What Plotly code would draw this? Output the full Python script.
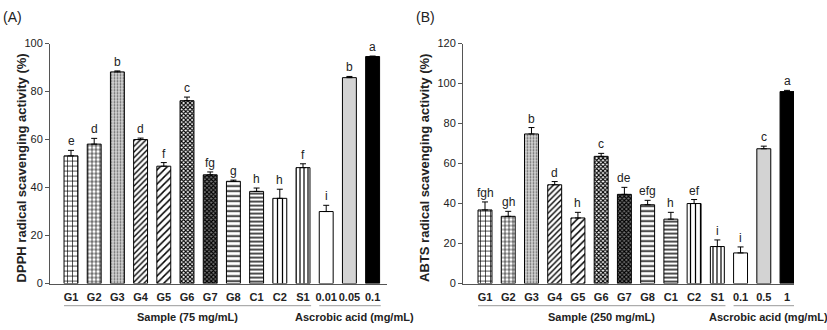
import plotly.graph_objects as go

W, H = 827, 330

# ---------------- data ----------------
cats_a = ["G1", "G2", "G3", "G4", "G5", "G6", "G7", "G8", "C1", "C2", "S1", "0.01", "0.05", "0.1"]
vals_a = [53.2, 58.1, 88.2, 60.0, 48.9, 76.2, 45.3, 42.6, 38.4, 35.5, 48.3, 30.0, 85.8, 94.6]
errs_a = [2.3, 2.4, 0.4, 0.6, 1.5, 1.5, 1.2, 0.5, 1.4, 3.8, 1.6, 2.6, 0.5, 0.2]
lets_a = ["e", "d", "b", "d", "f", "c", "fg", "g", "h", "h", "f", "i", "b", "a"]

cats_b = ["G1", "G2", "G3", "G4", "G5", "G6", "G7", "G8", "C1", "C2", "S1", "0.1", "0.5", "1"]
vals_b = [36.8, 33.6, 74.8, 49.4, 32.8, 63.6, 44.6, 39.4, 32.2, 40.0, 18.5, 15.3, 67.4, 96.0]
errs_b = [4.0, 2.5, 3.2, 1.6, 2.8, 1.5, 3.5, 2.2, 3.4, 2.0, 3.3, 3.0, 1.3, 0.6]
lets_b = ["fgh", "gh", "b", "d", "h", "c", "de", "efg", "h", "ef", "i", "i", "c", "a"]

group_a = ["Sample (75 mg/mL)", "Ascrobic acid (mg/mL)"]
group_b = ["Sample (250 mg/mL)", "Ascrobic acid (mg/mL)"]
group_split = 11  # first 11 are samples

ytitle_a = "DPPH radical scavenging activity (%)"
ytitle_b = "ABTS radical scavenging activity (%)"

# ---------------- styles per bar position ----------------
styles = [
    dict(shape="+", size=5, solidity=0.25, bg="white", fg="black"),
    dict(shape="+", size=4, solidity=0.3, bg="white", fg="black"),
    dict(shape=".", size=3, solidity=0.3, bg="#d4d4d4", fg="#666666"),
    dict(shape="/", size=4, solidity=0.35, bg="white", fg="black"),
    dict(shape="/", size=5, solidity=0.3, bg="white", fg="black"),
    dict(shape="x", size=3, solidity=0.6, bg="white", fg="black"),
    dict(shape="x", size=3, solidity=0.6, bg="#777777", fg="black"),
    dict(shape="-", size=5, solidity=0.3, bg="white", fg="black"),
    dict(shape="-", size=4, solidity=0.35, bg="white", fg="black"),
    dict(shape="|", size=5, solidity=0.25, bg="white", fg="black"),
    dict(shape="|", size=4, solidity=0.3, bg="white", fg="black"),
    dict(shape="", size=4, solidity=0.3, bg="white", fg="white"),
    dict(shape="", size=4, solidity=0.3, bg="#d3d3d3", fg="#d3d3d3"),
    dict(shape="", size=4, solidity=0.3, bg="black", fg="black"),
]

FONT = "Arial, Liberation Sans, sans-serif"

fig = go.Figure()

def px_x(p):
    return p / W

def px_y(p):
    return 1 - p / H

panels = [
    dict(cats=cats_a, vals=vals_a, errs=errs_a, lets=lets_a, groups=group_a,
         xa="x", ya="y", xdom=[px_x(50), px_x(387)], xr=[-0.905, 13.62],
         yr=[0, 100], dtick=20, ytitle=ytitle_a, title_x=12, label="(A)", label_x=1),
    dict(cats=cats_b, vals=vals_b, errs=errs_b, lets=lets_b, groups=group_b,
         xa="x2", ya="y2", xdom=[px_x(463), px_x(794)], xr=[-0.947, 13.3],
         yr=[0, 120], dtick=20, ytitle=ytitle_b, title_x=425, label="(B)", label_x=414),
]

ydom = [px_y(288), px_y(39)]

for pi, P in enumerate(panels):
    xs = list(range(len(P["cats"])))
    for i, x in enumerate(xs):
        s = styles[i]
        marker = dict(color=s["bg"], line=dict(color="black", width=1))
        if s["shape"]:
            marker["pattern"] = dict(shape=s["shape"], size=s["size"], solidity=s["solidity"],
                                     fgcolor=s["fg"], bgcolor=s["bg"], fillmode="replace")
        fig.add_trace(go.Bar(
            x=[x], y=[P["vals"][i]], width=0.6, marker=marker,
            error_y=dict(type="data", symmetric=False, array=[P["errs"][i]], arrayminus=[0],
                         color="black", thickness=1, width=3),
            xaxis=P["xa"], yaxis=P["ya"], showlegend=False,
        ))
        fig.add_annotation(x=x, y=P["vals"][i] + P["errs"][i], xref=P["xa"], yref=P["ya"],
                           text=P["lets"][i], showarrow=False, yanchor="bottom", yshift=0,
                           font=dict(family=FONT, size=12, color="#222"))
    n = len(xs)
    xref = P["xa"]
    fig.add_shape(type="line", xref=xref, yref="paper", x0=-0.3, x1=group_split - 1 + 0.35,
                  y0=px_y(311), y1=px_y(311), line=dict(color="#999", width=1))
    fig.add_shape(type="line", xref=xref, yref="paper", x0=group_split - 0.3, x1=n - 1 + 0.35,
                  y0=px_y(311), y1=px_y(311), line=dict(color="#999", width=1))
    fig.add_annotation(x=(group_split - 1) / 2, y=px_y(314), xref=xref, yref="paper",
                       yanchor="top", text="<b>%s</b>" % P["groups"][0], showarrow=False,
                       font=dict(family=FONT, size=11, color="#222"))
    fig.add_annotation(x=(group_split + n - 1) / 2 + 0.2, y=px_y(314), xref=xref, yref="paper",
                       yanchor="top", text="<b>%s</b>" % P["groups"][1], showarrow=False,
                       font=dict(family=FONT, size=11, color="#222"))
    fig.add_annotation(x=px_x(P["title_x"]), y=px_y(168), xref="paper", yref="paper",
                       text="<b>%s</b>" % P["ytitle"], textangle=-90, showarrow=False,
                       font=dict(family=FONT, size=13, color="#222"))
    fig.add_annotation(x=px_x(P["label_x"]), y=px_y(1), xref="paper", yref="paper",
                       text=P["label"], showarrow=False, xanchor="left", yanchor="top",
                       font=dict(family=FONT, size=14, color="#222"))

    xkey = "xaxis" if pi == 0 else "xaxis2"
    ykey = "yaxis" if pi == 0 else "yaxis2"
    fig.layout[xkey] = dict(domain=P["xdom"], range=P["xr"], anchor=P["ya"],
                            tickvals=xs, ticktext=["<b>%s</b>" % c for c in P["cats"]],
                            tickangle=0, ticklabelstandoff=3,
                            showline=True, linecolor="#555", linewidth=1, ticks="",
                            showgrid=False, zeroline=False,
                            tickfont=dict(family=FONT, size=11, color="#222"))
    fig.layout[ykey] = dict(domain=ydom, range=P["yr"], anchor=P["xa"], dtick=P["dtick"],
                            showline=True, linecolor="#555", linewidth=1, ticks="outside",
                            ticklen=4, tickcolor="#555", showgrid=False, zeroline=False,
                            tickfont=dict(family=FONT, size=11, color="#222"))

fig.update_layout(width=W, height=H, margin=dict(l=0, r=0, t=0, b=0),
                  paper_bgcolor="white", plot_bgcolor="white", bargap=0.4)

fig.write_html("out.html")
